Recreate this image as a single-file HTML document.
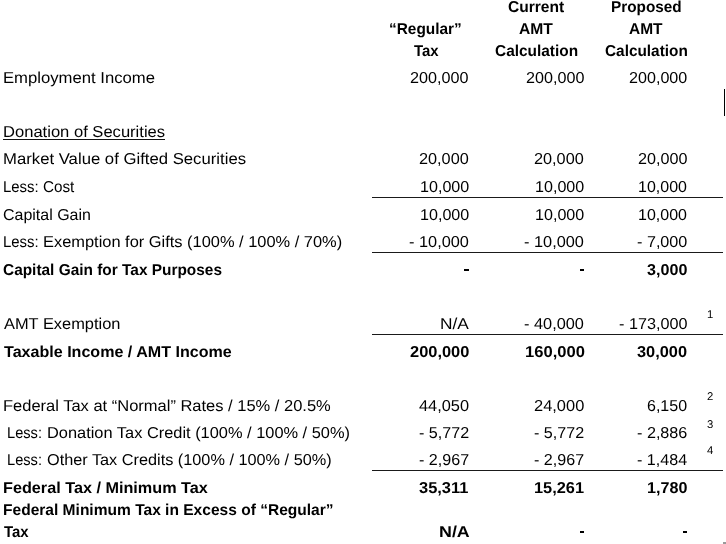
<!DOCTYPE html>
<html><head><meta charset="utf-8"><title>AMT comparison</title>
<style>
html,body{margin:0;padding:0;background:#fff;}
body{text-rendering:geometricPrecision;width:726px;height:544px;position:relative;overflow:hidden;font-family:"Liberation Sans",sans-serif;color:#000;}
.t{position:absolute;white-space:pre;font-size:15.8px;line-height:20px;height:20px;transform-origin:0 0;}
.b{font-weight:bold;}
.s{position:absolute;white-space:pre;transform-origin:0 0;}
.l{position:absolute;left:372px;width:351px;height:1px;background:#1a1a1a;}
.d{position:absolute;height:2px;background:#000;}
#w{position:absolute;left:0;top:0;width:726px;height:544px;will-change:transform;}
</style></head><body><div id="w">
<div class="t b" style="left:508.46px;top:-2px;transform:scaleX(0.9849)">Current</div>
<div class="t b" style="left:610.53px;top:-2px;transform:scaleX(0.9710)">Proposed</div>
<div class="t b" style="left:389.38px;top:20px;transform:scaleX(0.9758)">“Regular”</div>
<div class="t b" style="left:519.41px;top:20px;transform:scaleX(0.9881)">AMT</div>
<div class="t b" style="left:628.81px;top:20px;transform:scaleX(0.9791)">AMT</div>
<div class="t b" style="left:413.66px;top:42px;transform:scaleX(0.9451)">Tax</div>
<div class="t b" style="left:495.17px;top:42px;transform:scaleX(0.9760)">Calculation</div>
<div class="t b" style="left:604.57px;top:42px;transform:scaleX(0.9725)">Calculation</div>
<div class="t" style="left:2.78px;top:69px;transform:scaleX(1.0556)">Employment Income</div>
<div class="t" style="left:410.43px;top:69px;transform:scaleX(1.0242)">200,000</div>
<div class="t" style="left:525.83px;top:69px;transform:scaleX(1.0224)">200,000</div>
<div class="t" style="left:629.03px;top:69px;transform:scaleX(1.0206)">200,000</div>
<div class="t" style="left:2.79px;top:123px;transform:scaleX(1.0488)">Donation of Securities</div>
<div class="t" style="left:2.78px;top:150px;transform:scaleX(1.0579)">Market Value of Gifted Securities</div>
<div class="t" style="left:419.43px;top:150px;transform:scaleX(1.0298)">20,000</div>
<div class="t" style="left:534.43px;top:150px;transform:scaleX(1.0298)">20,000</div>
<div class="t" style="left:637.83px;top:150px;transform:scaleX(1.0234)">20,000</div>
<div class="t" style="left:2.92px;top:178px;transform:scaleX(0.9457)">Less:</div>
<div class="t" style="left:42.88px;top:178px;transform:scaleX(0.9651)">Cost</div>
<div class="t" style="left:419.93px;top:178px;transform:scaleX(1.0194)">10,000</div>
<div class="t" style="left:534.93px;top:178px;transform:scaleX(1.0194)">10,000</div>
<div class="t" style="left:638.33px;top:178px;transform:scaleX(1.0129)">10,000</div>
<div class="t" style="left:3.34px;top:206px;transform:scaleX(1.0111)">Capital Gain</div>
<div class="t" style="left:419.93px;top:206px;transform:scaleX(1.0194)">10,000</div>
<div class="t" style="left:534.93px;top:206px;transform:scaleX(1.0194)">10,000</div>
<div class="t" style="left:638.33px;top:206px;transform:scaleX(1.0129)">10,000</div>
<div class="t" style="left:2.92px;top:233px;transform:scaleX(0.9457)">Less:</div>
<div class="t" style="left:43.20px;top:233px;transform:scaleX(1.0387)">Exemption for Gifts (100% / 100% / 70%)</div>
<div class="t" style="left:409.42px;top:233px;transform:scaleX(1.0336)">- 10,000</div>
<div class="t" style="left:524.42px;top:233px;transform:scaleX(1.0336)">- 10,000</div>
<div class="t" style="left:637.03px;top:233px;transform:scaleX(1.0241)">- 7,000</div>
<div class="t b" style="left:3.37px;top:261px;transform:scaleX(0.9758)">Capital Gain for Tax Purposes</div>
<div class="t b" style="left:646.89px;top:261px;transform:scaleX(1.0208)">3,000</div>
<div class="t" style="left:4.10px;top:315px;transform:scaleX(1.0387)">AMT Exemption</div>
<div class="t" style="left:440.13px;top:315px;transform:scaleX(1.0960)">N/A</div>
<div class="t" style="left:524.42px;top:315px;transform:scaleX(1.0336)">- 40,000</div>
<div class="t" style="left:619.03px;top:315px;transform:scaleX(1.0253)">- 173,000</div>
<div class="t b" style="left:3.85px;top:343px;transform:scaleX(1.0175)">Taxable Income / AMT Income</div>
<div class="t b" style="left:410.18px;top:343px;transform:scaleX(1.0393)">200,000</div>
<div class="t b" style="left:524.65px;top:343px;transform:scaleX(1.0486)">160,000</div>
<div class="t b" style="left:637.28px;top:343px;transform:scaleX(1.0349)">30,000</div>
<div class="t" style="left:2.80px;top:397px;transform:scaleX(1.0437)">Federal Tax at “Normal” Rates / 15% / 20.5%</div>
<div class="t" style="left:419.44px;top:397px;transform:scaleX(1.0358)">44,050</div>
<div class="t" style="left:533.92px;top:397px;transform:scaleX(1.0404)">24,000</div>
<div class="t" style="left:647.14px;top:397px;transform:scaleX(1.0144)">6,150</div>
<div class="t" style="left:7.44px;top:424px;transform:scaleX(0.9257)">Less:</div>
<div class="t" style="left:46.90px;top:424px;transform:scaleX(1.0372)">Donation Tax Credit (100% / 100% / 50%)</div>
<div class="t" style="left:418.94px;top:424px;transform:scaleX(1.0189)">- 5,772</div>
<div class="t" style="left:533.94px;top:424px;transform:scaleX(1.0189)">- 5,772</div>
<div class="t" style="left:637.03px;top:424px;transform:scaleX(1.0241)">- 2,886</div>
<div class="t" style="left:7.44px;top:451px;transform:scaleX(0.9257)">Less:</div>
<div class="t" style="left:47.43px;top:451px;transform:scaleX(1.0302)">Other Tax Credits (100% / 100% / 50%)</div>
<div class="t" style="left:418.94px;top:451px;transform:scaleX(1.0189)">- 2,967</div>
<div class="t" style="left:533.94px;top:451px;transform:scaleX(1.0189)">- 2,967</div>
<div class="t" style="left:637.04px;top:451px;transform:scaleX(1.0187)">- 1,484</div>
<div class="t b" style="left:3.07px;top:479px;transform:scaleX(1.0265)">Federal Tax / Minimum Tax</div>
<div class="t b" style="left:419.18px;top:479px;transform:scaleX(1.0409)">35,311</div>
<div class="t b" style="left:533.66px;top:479px;transform:scaleX(1.0353)">15,261</div>
<div class="t b" style="left:646.88px;top:479px;transform:scaleX(1.0211)">1,780</div>
<div class="t b" style="left:3.12px;top:501px;transform:scaleX(0.9840)">Federal Minimum Tax in Excess of “Regular”</div>
<div class="t b" style="left:3.86px;top:523px;transform:scaleX(0.9451)">Tax</div>
<div class="t b" style="left:438.67px;top:523px;transform:scaleX(1.1301)">N/A</div>
<div style="position:absolute;left:3px;width:162px;top:139px;height:1px;background:#111"></div>
<div class="l" style="top:197.3px"></div>
<div class="l" style="top:252.1px"></div>
<div class="l" style="top:333.7px"></div>
<div class="l" style="top:470.0px"></div>
<div class="d" style="left:464.3px;width:5.0px;top:268.8px"></div>
<div class="d" style="left:579.8px;width:4.6px;top:268.8px"></div>
<div class="d" style="left:579.8px;width:4.6px;top:530.6px"></div>
<div class="d" style="left:682.6px;width:4.5px;top:530.6px"></div>
<div class="s" style="left:707px;top:309px;font-size:11.3px;line-height:12px;height:12px">1</div>
<div class="s" style="left:707px;top:391px;font-size:11.3px;line-height:12px;height:12px">2</div>
<div class="s" style="left:707px;top:419px;font-size:11.3px;line-height:12px;height:12px">3</div>
<div class="s" style="left:707px;top:445px;font-size:11.3px;line-height:12px;height:12px">4</div>
<div style="position:absolute;left:724px;top:89px;width:1px;height:27px;background:#000"></div>
<div style="position:absolute;left:723px;top:542px;width:3px;height:2px;background:#9a9a9a"></div>
</div></body></html>
